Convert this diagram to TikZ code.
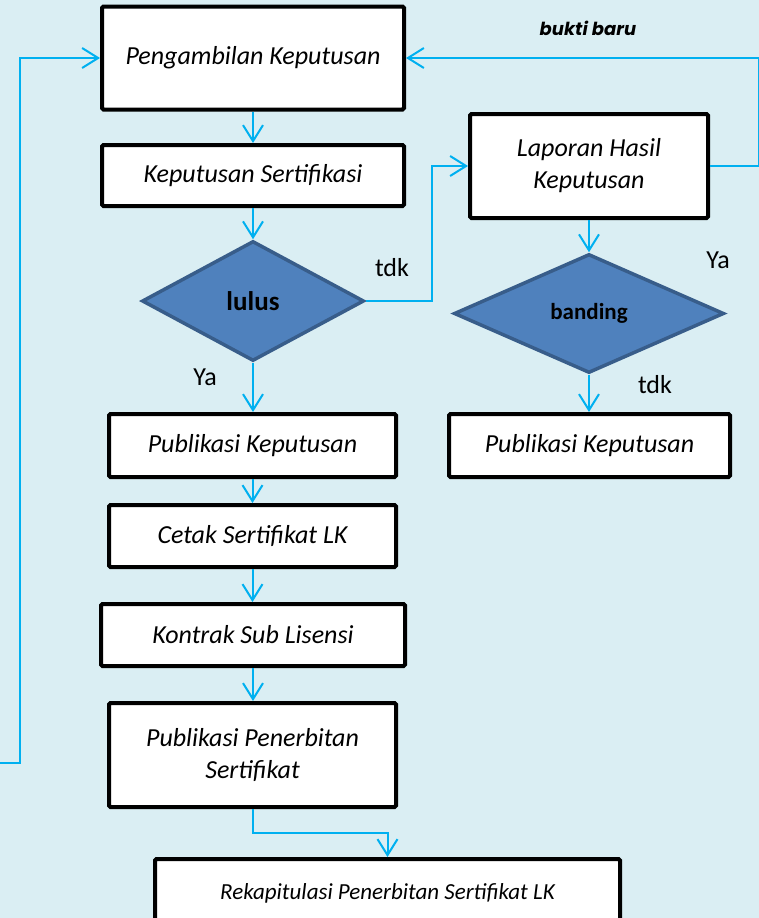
\documentclass[tikz,border=0pt]{standalone}
\usepackage{fontspec}
\setmainfont{Carlito}
\newfontfamily\buktifont{Poppins}
\usetikzlibrary{shapes.geometric,arrows.meta}

\definecolor{latar}{HTML}{DAEEF3}
\definecolor{panah}{HTML}{00B0F0}
\definecolor{isiwajik}{HTML}{4F81BD}
\definecolor{tepiwajik}{HTML}{385D8A}

\tikzset{
	kotak/.style={draw=black, line width=4pt, fill=white, rounded corners=1.5pt,
		inner sep=0pt, align=center, font=\fontsize{26}{32}\selectfont\itshape},
	wajik/.style={diamond, draw=tepiwajik, line width=3.5pt, fill=isiwajik,
		inner sep=0pt, font=\fontsize{27}{32}\selectfont\bfseries},
	alur/.style={draw=panah, line width=2pt,
		-{Straight Barb[length=16pt,width=20pt,line width=2pt]}},
	ket/.style={font=\fontsize{26}{32}\selectfont},
}

\begin{document}
\begin{tikzpicture}[x=1pt, y=-1pt]
	\fill[latar] (0,0) rectangle (759,918);
	\useasboundingbox (0,0) rectangle (759,918);

	% kolom kiri
	\node[kotak, minimum width=302pt, minimum height=103pt] (ambil) at (253,58) {Pengambilan Keputusan};
	\node[kotak, minimum width=302pt, minimum height=61pt] (sertif) at (253,175.5) {Keputusan Sertifikasi};
	\node[wajik, minimum width=222pt, minimum height=120pt] (lulus) at (253,301) {lulus};
	\node[kotak, minimum width=287pt, minimum height=63pt] (pubkep) at (252.5,445.5) {Publikasi Keputusan};
	\node[kotak, minimum width=287pt, minimum height=62pt] (cetak) at (252.5,536) {Cetak Sertifikat LK};
	\node[kotak, minimum width=304pt, minimum height=62pt] (kontrak) at (253,635) {Kontrak Sub Lisensi};
	\node[kotak, minimum width=287pt, minimum height=104pt] (terbit) at (252.5,755) {Publikasi Penerbitan\\Sertifikat};
	\node[kotak, minimum width=465pt, minimum height=68pt, font=\fontsize{23}{28}\selectfont\itshape] (rekap) at (387.5,893) {Rekapitulasi Penerbitan Sertifikat LK};

	% kolom kanan
	\node[kotak, minimum width=238pt, minimum height=104pt] (laporan) at (589,166) {Laporan Hasil\\Keputusan};
	\node[wajik, minimum width=270pt, minimum height=119pt, font=\fontsize{23}{28}\selectfont\bfseries] (banding) at (589,313.5) {banding};
	\node[kotak, minimum width=281pt, minimum height=63pt] (pubkepb) at (589.5,445.5) {Publikasi Keputusan};

	% keterangan
	\node[ket] (tdka) at (392,268) {tdk};
	\node[ket] (yaa) at (205,377) {Ya};
	\node[ket] (yab) at (718,260) {Ya};
	\node[ket] (tdkb) at (655,385) {tdk};
	\node[font=\fontsize{18}{22}\buktifont\bfseries\itshape] (bukti) at (588,28) {bukti baru};

	% alur
	\draw[alur] (ambil) -- (sertif);
	\draw[alur] (sertif) -- (lulus);
	\draw[alur] (lulus.south) -- (lulus.south |- pubkep.north);
	\draw[alur] (pubkep.south) -- (pubkep.south |- cetak.north);
	\draw[alur] (cetak.south) -- (cetak.south |- kontrak.north);
	\draw[alur] (kontrak.south) -- (kontrak.south |- terbit.north);
	\draw[alur] (terbit.south) -- ++(0,-24pt) -| (rekap.north);
	\draw[alur] (lulus.east) -- ++(66pt,0) |- (laporan.west);
	\draw[alur] (laporan.east) -- ++(49pt,0) |- (ambil.east);
	\draw[alur] (laporan) -- (banding);
	\draw[alur] (banding.south) -- (banding.south |- pubkepb.north);
	\coordinate (balik) at (0,763);
	\draw[alur] (balik) -- ++(20pt,0) |- (ambil.west);
\end{tikzpicture}
\end{document}
